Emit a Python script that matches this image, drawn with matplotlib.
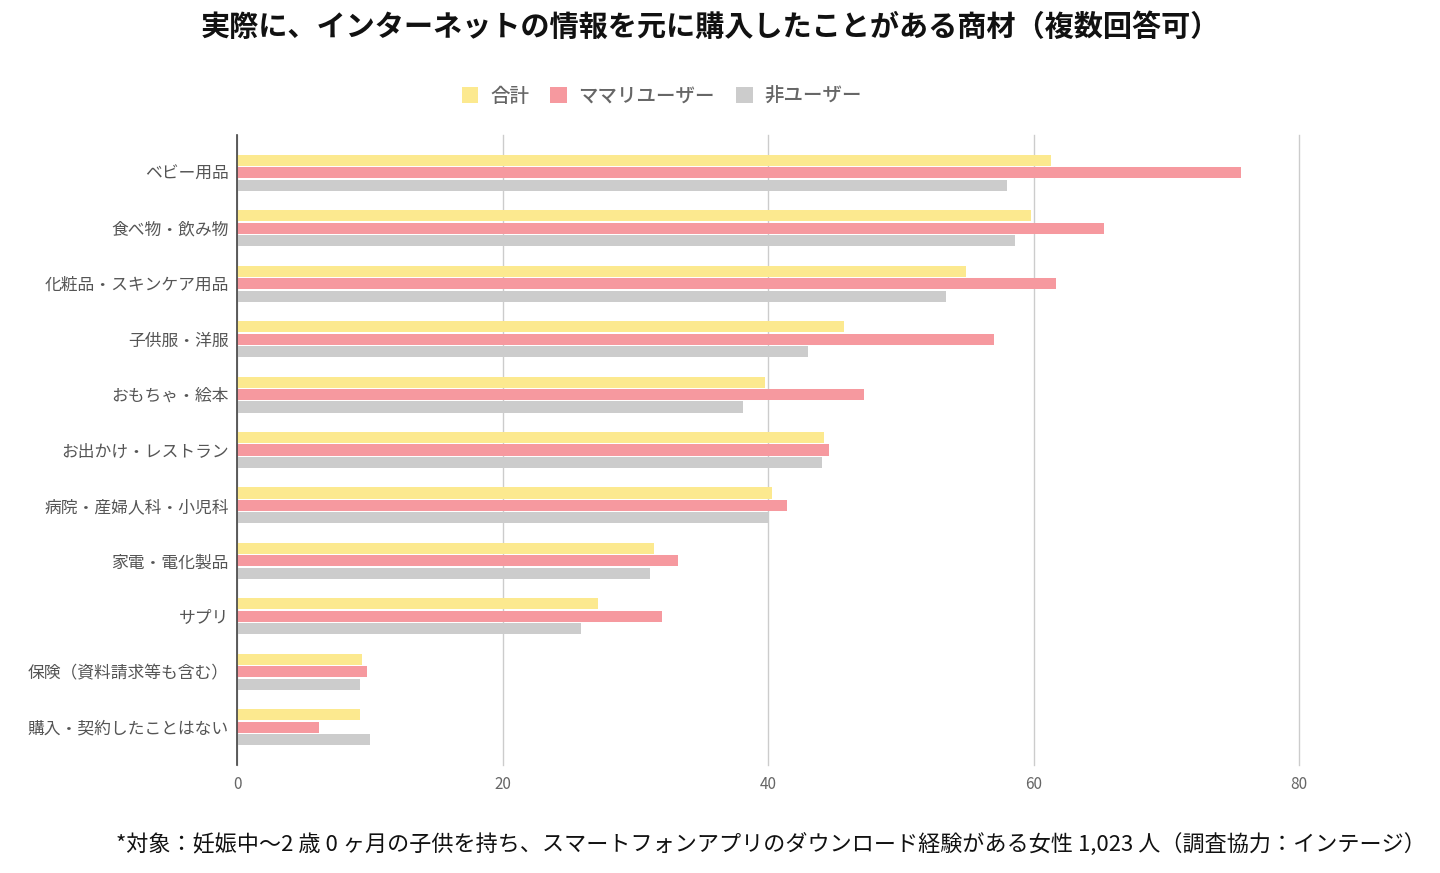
import matplotlib
matplotlib.use("Agg")
import matplotlib.pyplot as plt
import numpy as np

plt.rcParams['font.family'] = ['Noto Sans CJK JP', 'DejaVu Sans']

categories = ["ベビー用品", "食べ物・飲み物", "化粧品・スキンケア用品", "子供服・洋服",
              "おもちゃ・絵本", "お出かけ・レストラン", "病院・産婦人科・小児科",
              "家電・電化製品", "サプリ", "保険（資料請求等も含む）", "購入・契約したことはない"]
series_names = ["合計", "ママリユーザー", "非ユーザー"]
total = [61.3, 59.8, 54.9, 45.7, 39.8, 44.2, 40.3, 31.4, 27.2, 9.4, 9.3]
mamari = [75.6, 65.3, 61.7, 57.0, 47.2, 44.6, 41.4, 33.2, 32.0, 9.8, 6.2]
non_user = [58.0, 58.6, 53.4, 43.0, 38.1, 44.1, 40.0, 31.1, 25.9, 9.3, 10.0]
xticks = [0, 20, 40, 60, 80]
colors = ["#FCE98F", "#F6999F", "#CCCCCC"]

W, H = 1440, 873
fig = plt.figure(figsize=(W / 100, H / 100), dpi=100)
ax = fig.add_axes([237 / W, (H - 765) / H, (1299 - 237) / W, (765 - 135) / H])

y = np.arange(len(categories))
offsets = [-0.225, 0.0, 0.225]
for vals, off, c, name in zip([total, mamari, non_user], offsets, colors, series_names):
    ax.barh(y + off, vals, height=0.2, color=c, label=name, zorder=3)

ax.set_xlim(0, 80)
ax.set_ylim(len(categories) - 0.5 + 0.18, -0.5 - 0.18)
ax.set_xticks(xticks)
ax.set_xticklabels([str(t) for t in xticks], color="#666666", fontsize=11)
ax.set_yticks(y)
ax.set_yticklabels(categories, color="#555555", fontsize=12.1)
ax.tick_params(axis='both', length=0)
ax.tick_params(axis='x', pad=8)
ax.tick_params(axis='y', pad=6)
ax.grid(axis='x', color="#CCCCCC", linewidth=1, zorder=0)
for line in ax.get_xgridlines():
    line.set_clip_on(False)
for s in ['top', 'right', 'bottom']:
    ax.spines[s].set_visible(False)
ax.spines['left'].set_color("#444444")
ax.spines['left'].set_linewidth(1.2)
ax.spines['left'].set_zorder(4)

fig.text(710 / W, 1 - 27 / H, "実際に、インターネットの情報を元に購入したことがある商材（複数回答可）",
         ha='center', va='center', fontsize=21, fontweight='bold', color="#111111")

leg = fig.legend(loc='center', bbox_to_anchor=(662 / W, 1 - 96 / H), ncol=3, frameon=False,
                 fontsize=14, handlelength=0.85, handleheight=0.85, handletextpad=0.6,
                 columnspacing=1.1, labelcolor="#666666")
for t in leg.get_texts():
    t.set_fontweight('medium')

fig.text(771 / W, 1 - 845 / H,
         "*対象：妊娠中〜2 歳 0 ヶ月の子供を持ち、スマートフォンアプリのダウンロード経験がある女性 1,023 人（調査協力：インテージ）",
         ha='center', va='center', fontsize=15.9, color="#111111")

fig.savefig("out.png", dpi=100, facecolor="white")
